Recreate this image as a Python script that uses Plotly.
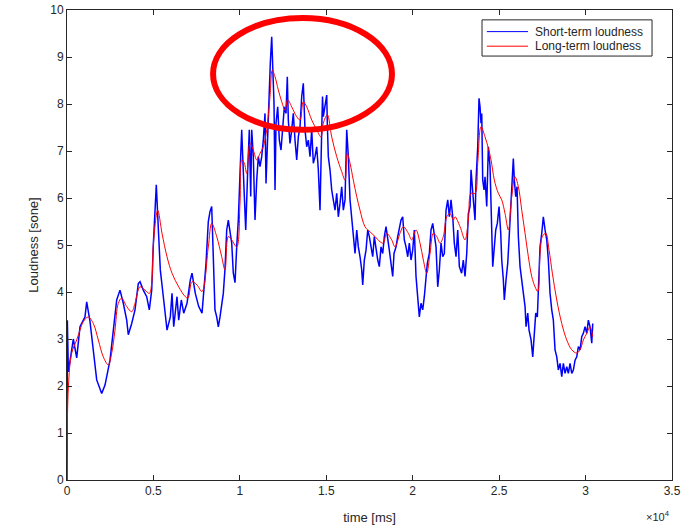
import plotly.graph_objects as go

# Short-term loudness trace (time in ms, loudness in sone)
short_t = [0, 20, 80, 365, 561, 752, 1041, 1140, 1331, 1522, 1718, 2008, 2199, 2488, 2679,
           2875, 3066, 3257, 3454, 3546, 3743, 3934, 4125, 4223, 4414, 4611, 4762, 4900, 4993,
           5166, 5305, 5398, 5594, 5786, 5977, 6075, 6173, 6364, 6462, 6613, 6752, 6943, 7134,
           7232, 7423, 7620, 7811, 8041, 8175, 8273, 8371, 8464, 8560, 8661, 8754, 8852, 9043,
           9141, 9240, 9332, 9430, 9529, 9621, 9720, 9818, 9911, 10009, 10107, 10165, 10258,
           10339, 10455, 10547, 10628, 10686, 10778, 10877, 10975, 11068, 11166, 11264, 11357,
           11455, 11513, 11611, 11687, 11762, 11843, 11901, 11976, 12034, 12092, 12190, 12283,
           12381, 12479, 12572, 12670, 12745, 12803, 12901, 12999, 13092, 13191, 13289, 13382,
           13480, 13578, 13671, 13770, 13868, 13960, 14059, 14157, 14250, 14348, 14446, 14539,
           14637, 14736, 14782, 14828, 14927, 15025, 15060, 15118, 15215, 15314, 15406, 15505,
           15603, 15696, 15795, 15893, 15986, 16084, 16182, 16275, 16373, 16472, 16564, 16663,
           16761, 16854, 16952, 17050, 17108, 17201, 17299, 17397, 17490, 17588, 17686, 17779,
           17877, 17976, 18068, 18167, 18265, 18358, 18456, 18554, 18647, 18745, 18843, 18918,
           19034, 19132, 19225, 19323, 19421, 19514, 19613, 19711, 19804, 19902, 20000, 20093,
           20191, 20289, 20382, 20480, 20579, 20671, 20770, 20845, 20961, 21059, 21158, 21250,
           21349, 21447, 21540, 21638, 21736, 21829, 21927, 22026, 22118, 22216, 22315, 22407,
           22506, 22604, 22697, 22830, 22927, 23026, 23125, 23218, 23316, 23374, 23449, 23507,
           23605, 23663, 23761, 23836, 23894, 23952, 23993, 24050, 24126, 24184, 24282, 24375,
           24473, 24571, 24629, 24722, 24803, 24895, 24994, 25092, 25150, 25242, 25300, 25399,
           25497, 25572, 25630, 25729, 25821, 25879, 25960, 26036, 26111, 26209, 26308, 26400,
           26499, 26557, 26655, 26730, 26846, 26944, 27019, 27117, 27210, 27268, 27366, 27465,
           27557, 27656, 27754, 27847, 27945, 28043, 28136, 28234, 28333, 28425, 28524, 28622,
           28715, 28813, 28911, 29004, 29102, 29201, 29293, 29392, 29490, 29583, 29681, 29779,
           29872, 29970, 30068, 30161, 30259, 30357, 30415]
short_loud = [0.0, 3.40, 2.30, 3.00, 2.60, 3.26, 3.47, 3.79, 3.37, 2.77, 2.13, 1.84, 2.02, 2.55, 3.12,
              3.83, 4.04, 3.76, 3.40, 3.09, 3.33, 3.62, 4.18, 4.22, 4.04, 3.90, 3.62, 4.04, 5.00,
              6.28, 5.18, 4.47, 3.83, 3.19, 3.47, 3.97, 3.26, 3.90, 3.40, 3.83, 3.55, 3.76, 4.26,
              4.40, 3.97, 3.69, 3.55, 4.60, 5.50, 5.71, 5.82, 4.61, 3.62, 3.47, 3.26, 3.47, 3.97,
              4.50, 5.32, 5.53, 5.25, 5.04, 4.40, 4.20, 4.96, 5.53, 6.52, 7.45, 6.88, 5.96,
              5.32, 6.60, 7.45, 6.03, 7.45, 6.88, 5.53, 6.38, 6.88, 6.67, 6.88, 7.23,
              7.80, 6.31, 7.45, 8.16, 8.87, 9.43, 8.72, 8.01, 6.17, 7.59, 7.94, 7.23,
              7.02, 7.45, 7.94, 7.80, 8.58, 7.66, 7.16, 7.45, 7.80, 7.23, 6.81, 7.30,
              7.52, 8.16, 8.44, 7.45, 7.09, 7.23, 6.88, 7.45, 6.74, 6.88, 7.09, 6.60,
              5.74, 7.45, 8.16, 7.73, 8.01, 8.19, 7.59, 6.88, 6.60, 6.17, 5.96, 5.74,
              6.10, 5.60, 5.89, 6.24, 5.74, 5.96, 7.45, 6.88, 5.96, 5.60, 5.18, 4.82,
              5.32, 4.96, 4.75, 4.47, 4.15, 4.68, 4.89, 5.32, 5.18, 4.96, 4.75, 5.18,
              4.89, 4.68, 4.54, 4.96, 4.82, 5.18, 5.39, 5.18, 4.89, 4.61, 4.33, 4.82,
              4.96, 5.18, 5.32, 5.53, 5.60, 5.11, 4.96, 4.75, 5.04, 4.68, 4.89, 5.32,
              4.33, 3.90, 3.47, 3.76, 3.62, 3.90, 4.33, 4.61, 4.82, 5.32, 5.46, 5.18,
              4.96, 4.11, 4.47, 5.04, 4.75, 4.82, 5.74, 5.96, 5.60, 5.96, 5.60, 5.04,
              4.75, 5.32, 4.54, 4.40, 4.68, 4.33, 4.82, 5.67, 5.82, 6.60, 6.31, 5.96,
              5.53, 6.38, 7.09, 8.12, 7.94, 7.59, 7.80, 6.38, 6.17, 6.45, 5.82, 7.09,
              6.67, 5.11, 4.54, 4.96, 5.32, 5.46, 5.82, 5.25, 4.68, 4.26, 3.83, 4.26,
              4.61, 5.11, 5.46, 6.24, 6.84, 6.38, 6.03, 6.24, 5.18, 4.54, 4.26, 3.97,
              3.69, 3.26, 3.55, 3.19, 2.98, 2.62, 3.12, 3.55, 3.47, 3.97, 4.96, 5.25,
              5.60, 5.32, 5.11, 4.68, 3.97, 3.62, 3.40, 2.77, 2.62, 2.34, 2.48, 2.20,
              2.48, 2.27, 2.41, 2.27, 2.48, 2.27, 2.34, 2.55, 2.62, 2.84, 2.77, 3.05,
              3.12, 3.26, 3.12, 3.40, 3.26, 2.91, 3.33]

# Long-term loudness trace
long_t = [0, 80, 272, 561, 752, 943, 1232, 1522, 1811, 2100, 2389, 2586, 2777, 2968, 3165,
          3454, 3743, 3934, 4223, 4512, 4762, 4900, 4993, 5247, 5496, 5786, 6075, 6462, 6844,
          7000, 7232, 7521, 7811, 8175, 8371, 8661, 8950, 9141, 9332, 9529, 9818, 10009, 10107,
          10258, 10397, 10587, 10778, 10975, 11166, 11357, 11553, 11744, 11877, 12034, 12224,
          12421, 12612, 12768, 12999, 13289, 13480, 13671, 13868, 14157, 14446, 14695, 14828,
          15060, 15314, 15603, 15893, 16084, 16217, 16373, 16564, 16761, 16952, 17241, 17530,
          17819, 18108, 18300, 18493, 18782, 18976, 19265, 19456, 19746, 19942, 20191, 20423,
          20614, 20811, 21002, 21193, 21390, 21581, 21771, 21968, 22159, 22350, 22448, 22737,
          23026, 23218, 23374, 23605, 23761, 23952, 24184, 24375, 24531, 24722, 24953, 25150,
          25341, 25532, 25729, 25919, 26111, 26308, 26499, 26690, 26886, 27077, 27233, 27366,
          27499, 27696, 27887, 28078, 28333, 28622, 28911, 29201, 29490, 29681, 29872, 30068,
          30259, 30415]
long_loud = [0.0, 1.98, 2.70, 2.98, 3.19, 3.37, 3.47, 3.33, 2.98, 2.62, 2.45, 2.70, 3.19, 3.76, 3.87,
             3.69, 3.58, 3.76, 4.11, 4.04, 3.97, 4.18, 5.00, 5.74, 5.25, 4.75, 4.40, 4.11, 3.90,
             3.87, 4.22, 4.15, 4.01, 4.96, 5.46, 5.18, 4.75, 4.47, 5.18, 5.11, 4.96, 5.89, 6.81,
             6.74, 6.52, 7.16, 7.02, 6.81, 6.95, 7.09, 7.45, 8.16, 8.72, 8.58, 8.30,
             8.05, 7.87, 8.09, 7.94, 7.73, 7.66, 8.05, 7.94, 7.66, 7.45, 7.30, 7.59,
             7.77, 7.30, 6.88, 6.56, 6.38, 6.95, 6.74, 6.38, 6.03, 5.74, 5.39, 5.28,
             5.18, 5.07, 5.04, 5.25, 5.11, 4.96, 5.25, 5.39, 5.25, 5.11, 5.32, 5.04,
             4.68, 4.40, 4.82, 5.25, 5.18, 5.04, 5.18, 5.60, 5.67, 5.53, 5.60, 5.39,
             5.11, 5.53, 6.10, 6.10, 6.74, 7.52, 7.30, 7.06, 6.81, 6.38, 6.10, 5.96,
             5.67, 5.32, 6.03, 6.45, 6.24, 5.74, 5.25, 4.75, 4.33, 4.11, 4.01, 4.82,
             5.18, 5.25, 4.89, 4.40, 3.83, 3.33, 2.98, 2.77, 2.70, 2.77, 2.98, 3.12,
             3.26, 3.05]

series_names = ["Short-term loudness", "Long-term loudness"]
series_colors = ["#0000ff", "#ff0000"]

x_ticks = [0, 5000, 10000, 15000, 20000, 25000, 30000, 35000]
x_tick_text = ["0", "0.5", "1", "1.5", "2", "2.5", "3", "3.5"]
y_ticks = [0, 1, 2, 3, 4, 5, 6, 7, 8, 9, 10]

# Highlighted region around the loudness maximum
mark_t = [8450, 18800]
mark_loud = [7.45, 9.83]

axis_color = "#262626"
font_family = "Liberation Sans, Arial, sans-serif"

fig = go.Figure()
fig.add_trace(go.Scatter(x=short_t, y=short_loud, mode="lines", name=series_names[0],
                         line=dict(color=series_colors[0], width=1.5)))
fig.add_trace(go.Scatter(x=long_t, y=long_loud, mode="lines", name=series_names[1],
                         line=dict(color=series_colors[1], width=1), line_shape="spline"))

fig.add_shape(type="circle", xref="x", yref="y",
              x0=mark_t[0], x1=mark_t[1], y0=mark_loud[0], y1=mark_loud[1],
              line=dict(color="#ff0000", width=6), layer="above")

# Compact boxed legend in the upper right corner of the axes
fig.add_shape(type="rect", xref="paper", yref="paper", x0=0.686, x1=0.967, y0=0.902, y1=0.979,
              line=dict(color=axis_color, width=1), fillcolor="white", layer="above")
for i, (name, color) in enumerate(zip(series_names, series_colors)):
    yy = 0.954 - i * 0.031
    fig.add_shape(type="line", xref="paper", yref="paper", x0=0.694, x1=0.762, y0=yy, y1=yy,
                  line=dict(color=color, width=1), layer="above")
    fig.add_annotation(text=name, xref="paper", yref="paper", x=0.770, y=yy,
                       xanchor="left", yanchor="middle", showarrow=False,
                       font=dict(size=12, color=axis_color, family=font_family))

fig.add_annotation(text="×10<sup>4</sup>", xref="paper", yref="paper", x=1.0, y=0,
                   xanchor="right", yanchor="top", yshift=-27, showarrow=False,
                   font=dict(size=11, color=axis_color, family=font_family))

axis_common = dict(showline=True, linecolor=axis_color, linewidth=1, mirror="allticks",
                   ticks="inside", ticklen=5, tickcolor=axis_color, showgrid=False,
                   zeroline=False, automargin=False,
                   tickfont=dict(size=12, color=axis_color, family=font_family))

fig.update_layout(
    width=689, height=528,
    margin=dict(l=67, r=17, t=10, b=48),
    paper_bgcolor="white", plot_bgcolor="white",
    font=dict(family=font_family, color=axis_color),
    xaxis=dict(range=[0, 35000], tickvals=x_ticks, ticktext=x_tick_text,
               title=dict(text="time [ms]", font=dict(size=13), standoff=15), **axis_common),
    yaxis=dict(range=[0, 10], tickvals=y_ticks,
               title=dict(text="Loudness [sone]", font=dict(size=13), standoff=8), **axis_common),
    showlegend=False,
)

fig.write_html("out.html")
